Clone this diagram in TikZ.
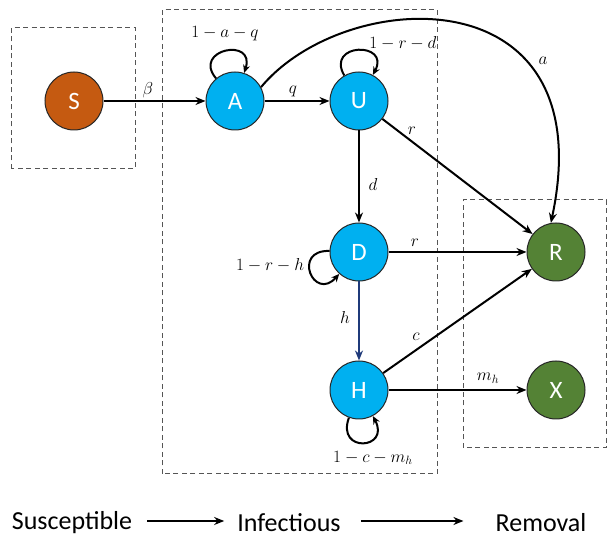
\documentclass[tikz,border=0pt]{standalone}
\usepackage{fontspec}
\newfontfamily\carlito{Carlito}
\usetikzlibrary{arrows.meta}
\definecolor{sorange}{HTML}{C55A11}
\definecolor{iblue}{HTML}{00B0F0}
\definecolor{rgreen}{HTML}{548235}
\definecolor{hnavy}{HTML}{1F3A7A}
\definecolor{boxgray}{HTML}{555555}
\begin{document}
\begin{tikzpicture}[x=1pt,y=1pt,
  state/.style={circle,minimum size=58pt,inner sep=0pt,draw=black!85,line width=1pt,
    text=white,font=\carlito\fontsize{25}{25}\selectfont},
  grp/.style={draw=boxgray,line width=1pt,dash pattern=on 5pt off 3.5pt},
  arr/.style={line width=2pt,-{Stealth[length=10pt,width=8pt]}},
  loopline/.style={line width=2pt,-{Stealth[length=8pt,width=7pt]}},
  lbl/.style={font=\fontsize{17}{20}\selectfont,inner sep=1pt},
  legendtxt/.style={font=\carlito\fontsize{26}{28}\selectfont,inner sep=0pt}]
\useasboundingbox (0,0) rectangle (608,538);
\fill[white] (0,0) rectangle (608,538);
% groups
\draw[grp] (11,369) rectangle (135,510);
\draw[grp] (162,64) rectangle (437,528);
\draw[grp] (463,90) rectangle (606,338);
% states
\node[state,fill=sorange] (S) at (74,437) {S};
\node[state,fill=iblue] (A) at (235,437) {A};
\node[state,fill=iblue] (U) at (359,437) {U};
\node[state,fill=iblue] (D) at (359,286) {D};
\node[state,fill=iblue] (H) at (359,148) {H};
\node[state,fill=rgreen] (R) at (556,286) {R};
\node[state,fill=rgreen] (X) at (556,148) {X};
% transitions
\draw[arr] (S) -- (A);
\draw[arr] (A) -- (U);
\draw[arr] (U) -- (D);
\draw[arr] (U) -- (R);
\draw[arr] (D) -- (R);
\draw[arr,draw=hnavy] (D) -- (H);
\draw[arr] (H) -- (R);
\draw[arr] (H) -- (X);
\draw[arr] (A.28) .. controls (345,552) and (604,565) .. (R.100);
% self loops
\path (A) edge[loopline,loop,out=130,in=72,min distance=38pt] (A);
\path (U) edge[loopline,loop,out=120,in=62,min distance=38pt] (U);
\path (D) edge[loopline,loop,out=178,in=228,min distance=38pt] (D);
\path (H) edge[loopline,loop,out=250,in=298,min distance=38pt] (H);
% labels
\node[lbl] (lb) at (148,448) {$\beta$};
\node[lbl] (lq) at (293,447) {$q$};
\node[lbl] (laq) at (225,504) {$1-a-q$};
\node[lbl] (lrd) at (403,495) {$1-r-d$};
\node[lbl] (la) at (543,477) {$a$};
\node[lbl] (lr1) at (412,407) {$r$};
\node[lbl] (ld) at (373,353) {$d$};
\node[lbl] (lr2) at (415,295) {$r$};
\node[lbl] (lrh) at (270,273) {$1-r-h$};
\node[lbl] (lh) at (345,220) {$h$};
\node[lbl] (lc) at (416,201) {$c$};
\node[lbl] (lm) at (488,160) {$m_h$};
\node[lbl] (lcm) at (373,80) {$1-c-m_h$};
% bottom legend
\coordinate (ya) at (0,17);
\node[legendtxt] (sus) at (72,15) {Susceptible};
\node[legendtxt] (inf) at (289,15) {Infectious};
\node[legendtxt] (rem) at (541,15) {Removal};
\draw[arr,shorten <=15pt,shorten >=13pt] (sus.east |- ya) -- (inf.west |- ya);
\draw[arr,shorten <=20pt,shorten >=32pt] (inf.east |- ya) -- (rem.west |- ya);
\end{tikzpicture}
\end{document}
